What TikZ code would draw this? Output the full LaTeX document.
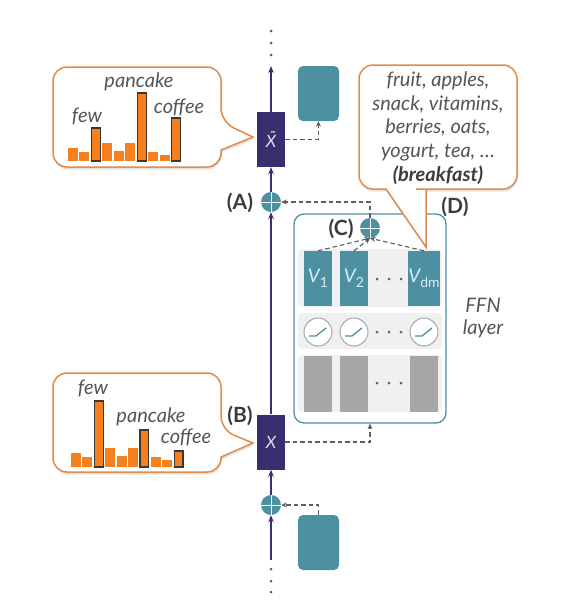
\documentclass[tikz,border=0pt]{standalone}
\usepackage{fontspec}
\setmainfont{Lato}
\usetikzlibrary{shadows,arrows.meta}
\definecolor{navy}{RGB}{58,47,110}
\definecolor{navytext}{RGB}{225,220,245}
\definecolor{tealc}{RGB}{76,144,161}
\definecolor{vtext}{RGB}{215,238,244}
\definecolor{baror}{RGB}{247,128,30}
\definecolor{bardark}{RGB}{60,55,50}
\definecolor{bubor}{RGB}{224,140,76}
\definecolor{rowg}{RGB}{240,240,240}
\definecolor{barg}{RGB}{166,166,166}
\definecolor{txtg}{RGB}{85,85,85}
\definecolor{lblg}{RGB}{60,60,60}
\definecolor{dashg}{RGB}{95,95,95}
\begin{document}
\begin{tikzpicture}[x=1pt,y=-1pt,
  mainline/.style={draw=navy, line width=1.3pt, -{Stealth[length=7pt,width=5.5pt]}},
  dsh/.style={draw=dashg, line width=1.1pt, dash pattern=on 4.5pt off 3pt, -{Stealth[length=5.5pt,width=5pt]}},
  navybox/.style={fill=navy, minimum width=28pt, minimum height=55pt, inner sep=0pt, text=navytext, font=\itshape\fontsize{17}{17}\selectfont},
  tealbox/.style={fill=tealc, rounded corners=5pt, minimum width=41pt, minimum height=55pt, inner sep=0pt},
  addc/.style={circle, fill=tealc, minimum size=20pt, inner sep=0pt,
    path picture={\draw[white, line width=1pt] (path picture bounding box.north) -- (path picture bounding box.south) (path picture bounding box.west) -- (path picture bounding box.east);}},
  vbox/.style={fill=tealc, minimum width=28pt, minimum height=55pt, inner sep=0pt, text=vtext, font=\itshape\fontsize{19}{19}\selectfont},
  gbar/.style={fill=barg, minimum width=28pt, minimum height=56pt, inner sep=0pt},
  relu/.style={circle, draw=barg, fill=white, line width=1pt, minimum size=28pt, inner sep=0pt},
  ramp/.style={draw=tealc, line width=1.3pt},
  rowband/.style={fill=rowg, rounded corners=4pt},
  bubble/.style={draw=bubor, fill=white, line width=1.5pt, drop shadow={shadow xshift=0.8pt, shadow yshift=-2.5pt, opacity=0.22}},
  wordlbl/.style={text=txtg, font=\itshape\fontsize{20}{20}\selectfont, inner sep=0pt, anchor=base},
  tag/.style={text=lblg, font=\bfseries\fontsize{21}{21}\selectfont, inner sep=0pt},
  dotc/.style={fill=dashg},
  orbar/.style={fill=baror},
  orbarh/.style={fill=baror, draw=bardark, line width=1.2pt}
]
\useasboundingbox (0,0) rectangle (584,608);

% ---------- FFN block ----------
\node[draw=tealc, fill=white, line width=1.3pt, rounded corners=10pt, minimum width=152pt, minimum height=209pt, inner sep=0pt] (FFN) at (370,318.5) {};
\fill[rowband] (298,249) rectangle (442,307);
\fill[rowband] (298,313) rectangle (442,349);
\fill[rowband] (298,355) rectangle (442,412);

\node[vbox] (V1) at (318,278.5) {V\raisebox{-5pt}{\upshape\fontsize{14}{14}\selectfont 1}};
\node[vbox] (V2) at (354,278.5) {V\raisebox{-5pt}{\upshape\fontsize{14}{14}\selectfont 2}};
\node[vbox] (Vd) at (424,278.5) {V\raisebox{-5pt}{\upshape\fontsize{14}{14}\selectfont dm}};

\node[relu] (R1) at (318,332) {};
\node[relu] (R2) at (354,332) {};
\node[relu] (Rd) at (424,332) {};
\foreach \r in {R1,R2,Rd}
  \draw[ramp] ([xshift=-9pt,yshift=-4pt]\r.center) -- ++(7,0) -- ++(10,-8);

\node[gbar] (G1) at (318,384) {};
\node[gbar] (G2) at (354,384) {};
\node[gbar] (Gd) at (424,384) {};

\foreach \yy in {279,332,383}
  \foreach \xx in {377,389,401}
    \fill[dotc] (\xx,\yy) circle (1.5);

\node[text=txtg, font=\itshape\fontsize{20}{22}\selectfont, align=center] (ffnl) at (483,318) {FFN\\layer};

\node[addc] (C) at (370,228) {};
\node[tag] (Ct) at (341,229) {(C)};

% ---------- main residual stream ----------
\node[navybox] (Xt) at (271,139.5) {\~{X}};
\node[navybox] (X) at (271,442) {X};
\node[addc] (A) at (271,202) {};
\node[addc] (Bc) at (271,505) {};
\node[tealbox] (topbox) at (318.5,93.5) {};
\node[tealbox] (botbox) at (318.5,542.5) {};
\node[tag] (At) at (240,203) {(A)};
\node[tag] (Bt) at (240,416) {(B)};

\coordinate (bstart) at (271,560);
\coordinate (tend) at (271,66);
\draw[mainline] (bstart) -- (Bc.south);
\draw[mainline] (Bc.north) -- (X.south);
\draw[mainline] (X.north) -- (A.south);
\draw[mainline] (A.north) -- (Xt.south);
\draw[mainline] (Xt.north) -- (tend);
\foreach \yy in {31,43,55,569,581,592}
  \fill[dotc] (271,\yy) circle (1.5);

% dashed connectors
\draw[dsh] (Xt.east) -| (topbox.south);
\draw[dsh] (botbox.north) |- (Bc.east);
\draw[dsh] (X.east) -| (FFN.south);
\draw[dsh] (C.north) |- (A.east);
\draw[dsh] (V1.north) -- (C.south);
\draw[dsh] (V2.north) -- (C.south);
\draw[dsh] (Vd.north) -- (C.south);

% ---------- upper-left bubble ----------
\draw[bubble] (130,67) [rounded corners=14pt] -- (221,67) -- (221,122) [sharp corners] -- (253,137) -- (221,150) -- (221,155) [rounded corners=14pt] -- (221,167) -- (53,167) -- (53,67) -- cycle;
\foreach \i/\t in {0/148,1/152,3/143,4/151,5/143,7/152,8/155}
  \fill[orbar] (68+\i*11.45,161) rectangle ++(10,\t-161);
\foreach \i/\t in {2/128,6/93,9/118}
  \draw[orbarh] (68.6+\i*11.45,161) rectangle ++(8.8,\t-161);
\node[wordlbl] (w1) at (87,122) {few};
\node[wordlbl] (w2) at (139,87) {pancake};
\node[wordlbl] (w3) at (179,113) {coffee};

% ---------- lower-left bubble ----------
\draw[bubble] (130,373) [rounded corners=14pt] -- (221,373) -- (221,430) [sharp corners] -- (253,443) -- (221,457) -- (221,459) [rounded corners=14pt] -- (221,472) -- (53,472) -- (53,373) -- cycle;
\foreach \i/\t in {0/453,1/457,3/448,4/456,5/448,7/457,8/460}
  \fill[orbar] (71+\i*11.4,467) rectangle ++(10,\t-467);
\foreach \i/\t in {2/401,6/430,9/451}
  \draw[orbarh] (71.6+\i*11.4,467) rectangle ++(8.8,\t-467);
\node[wordlbl] (w4) at (93,394) {few};
\node[wordlbl] (w5) at (151,422) {pancake};
\node[wordlbl] (w6) at (186,443) {coffee};

% ---------- upper-right bubble ----------
\draw[bubble] (438,65) [rounded corners=14pt] -- (517,65) -- (517,189) -- (430,189) [sharp corners] -- (426,189) -- (426,247) -- (386,189) -- (380,189) [rounded corners=14pt] -- (359,189) -- (359,65) -- cycle;
\node[text=txtg, font=\itshape\fontsize{20}{23.7}\selectfont, align=center, inner sep=0pt] (words) at (438,128) {fruit, apples,\\snack, vitamins,\\berries, oats,\\yogurt, tea, …\\{\bfseries\color{lblg}(breakfast)}};
\node[tag] (Dt) at (455,207) {(D)};
\end{tikzpicture}
\end{document}
